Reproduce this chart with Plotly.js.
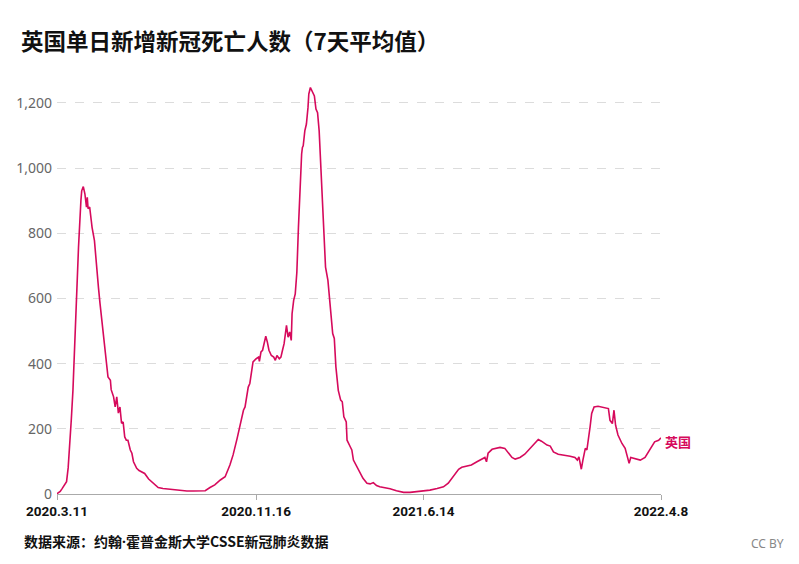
<!DOCTYPE html>
<html>
<head>
<meta charset="utf-8">
<script src="https://cdn.plot.ly/plotly-3.0.1.min.js"></script>
<style>
  html, body { margin: 0; padding: 0; background: #fff; }
  #chart { width: 799px; height: 564px; }
</style>
</head>
<body>
<div id="chart"></div>
<script>
// Data: days since start date, and 7-day average deaths
const startDate = '2020-03-11';
const dayOffsets = [0,4,6,9,12,14,16,18,20,23,25,27,30,31,33,35,37,38,39,41,43,44,47,49,50,52,54,56,58,60,62,64,67,68,71,73,75,77,79,81,83,85,87,89,92,94,96,100,103,106,110,115,121,127,133,142,150,156,163,171,179,186,192,198,205,211,217,221,226,230,234,236,238,240,242,244,246,250,253,254,256,258,260,262,264,266,269,272,274,276,279,281,283,285,288,290,292,294,295,297,299,301,303,304,305,307,308,309,311,313,315,316,318,319,320,323,325,327,329,331,333,335,337,340,342,343,346,348,350,353,356,358,360,363,364,368,370,372,376,380,384,389,393,397,401,405,410,418,426,435,443,451,460,468,477,485,491,497,504,508,514,520,527,533,537,539,541,546,550,556,562,566,571,575,581,587,592,598,604,608,615,619,623,629,638,644,650,653,655,658,660,663,665,667,669,671,674,679,686,692,694,697,699,701,704,709,713,716,718,720,724,732,738,742,746,750,755,758];
const deaths = [1,8,15,28,38,80,145,230,318,523,600,757,900,930,943,921,880,910,875,880,839,818,777,707,696,634,584,540,502,451,410,359,349,320,298,267,298,248,267,217,221,175,165,165,135,125,99,79,72,68,63,46,33,20,17,14,12,10,9,9,10,10,20,28,43,53,89,120,170,213,257,267,298,328,339,380,405,415,420,407,436,441,466,484,466,441,425,420,410,425,415,420,441,461,517,481,497,471,553,594,614,680,818,890,920,1043,1063,1068,1114,1135,1186,1227,1247,1242,1237,1221,1181,1170,1114,1012,890,808,696,655,594,584,492,477,390,318,288,283,237,221,165,145,135,104,84,65,48,33,31,35,26,22,20,16,10,5,5,7,9,12,17,22,33,53,76,82,86,89,99,106,112,99,125,137,140,143,140,129,112,107,112,122,135,153,167,162,150,147,129,122,119,116,112,104,114,76,104,140,135,165,206,247,267,269,265,262,226,216,257,211,181,155,140,114,94,112,109,104,112,129,145,160,165,172];
const tickDates = ['2020-03-11','2020-11-16','2021-06-14','2022-04-08'];
const tickLabels = ['2020.3.11','2020.11.16','2021.6.14','2022.4.8'];
const yTicks = [0,200,400,600,800,1000,1200];
const yTickLabels = ['0','200','400','600','800','1,000','1,200'];
const seriesName = '英国';

function addDays(iso, n) {
  const d = new Date(iso + 'T00:00:00Z');
  d.setUTCDate(d.getUTCDate() + n);
  return d.toISOString().slice(0, 10);
}
const dates = dayOffsets.map(n => addDays(startDate, n));

const lineColor = '#d60a5c';

const trace = {
  x: dates,
  y: deaths,
  type: 'scatter',
  mode: 'lines',
  line: { color: lineColor, width: 1.6 },
  hoverinfo: 'x+y',
  showlegend: false
};

const layout = {
  width: 799,
  height: 564,
  margin: { l: 57, r: 138, t: 80, b: 70 },
  paper_bgcolor: '#fff',
  plot_bgcolor: '#fff',
  font: { family: 'Noto Sans, Noto Sans CJK SC, sans-serif', color: '#222' },
  title: {
    text: '英国单日新增新冠死亡人数（7天平均值）',
    font: { family: 'Noto Sans CJK SC, sans-serif', size: 22.5, color: '#111', weight: 'bold' },
    x: 21 / 799,
    xanchor: 'left',
    xref: 'container',
    y: 1 - 42 / 564,
    yanchor: 'middle',
    yref: 'container'
  },
  xaxis: {
    type: 'date',
    range: [tickDates[0], tickDates[3]],
    tickmode: 'array',
    tickvals: tickDates,
    ticktext: tickLabels,
    tickfont: { family: 'Roboto, sans-serif', size: 13.5, color: '#111', weight: 'bold' },
    showgrid: false,
    showline: true,
    linecolor: '#aaa',
    linewidth: 1,
    ticks: 'outside',
    ticklen: 5,
    tickcolor: '#aaa',
    zeroline: false,
    fixedrange: true
  },
  yaxis: {
    range: [0, 1270],
    tickmode: 'array',
    tickvals: yTicks,
    ticktext: yTickLabels,
    tickfont: { family: 'Noto Sans, sans-serif', size: 14, color: '#666' },
    showgrid: true,
    gridcolor: '#dcdcdc',
    griddash: 'dash',
    gridwidth: 1,
    zeroline: false,
    showline: false,
    ticks: '',
    ticklabelstandoff: 4,
    fixedrange: true
  },
  annotations: [
    {
      x: dates[dates.length - 1],
      y: deaths[deaths.length - 1],
      xref: 'x', yref: 'y',
      text: '<b>' + seriesName + '</b>',
      showarrow: false,
      xanchor: 'left',
      yanchor: 'middle',
      xshift: 2,
      yshift: -4,
      font: { family: 'Noto Sans CJK SC, sans-serif', size: 13, color: lineColor }
    },
    {
      x: (22 - 57) / 604,
      y: (494 - 541) / 414,
      xref: 'paper', yref: 'paper',
      text: '<b>数据来源：约翰<span style="font-family:Noto Sans">·</span>霍普金斯大学CSSE新冠肺炎数据</b>',
      showarrow: false,
      xanchor: 'left',
      yanchor: 'middle',
      font: { family: 'Noto Sans CJK SC, sans-serif', size: 14, color: '#111' }
    },
    {
      x: (786 - 57) / 604,
      y: (494 - 543) / 414,
      xref: 'paper', yref: 'paper',
      text: 'CC BY',
      showarrow: false,
      xanchor: 'right',
      yanchor: 'middle',
      font: { family: 'Noto Sans, sans-serif', size: 12, color: '#888' }
    }
  ]
};

Plotly.newPlot('chart', [trace], layout, { displayModeBar: false, staticPlot: true });
</script>
</body>
</html>
